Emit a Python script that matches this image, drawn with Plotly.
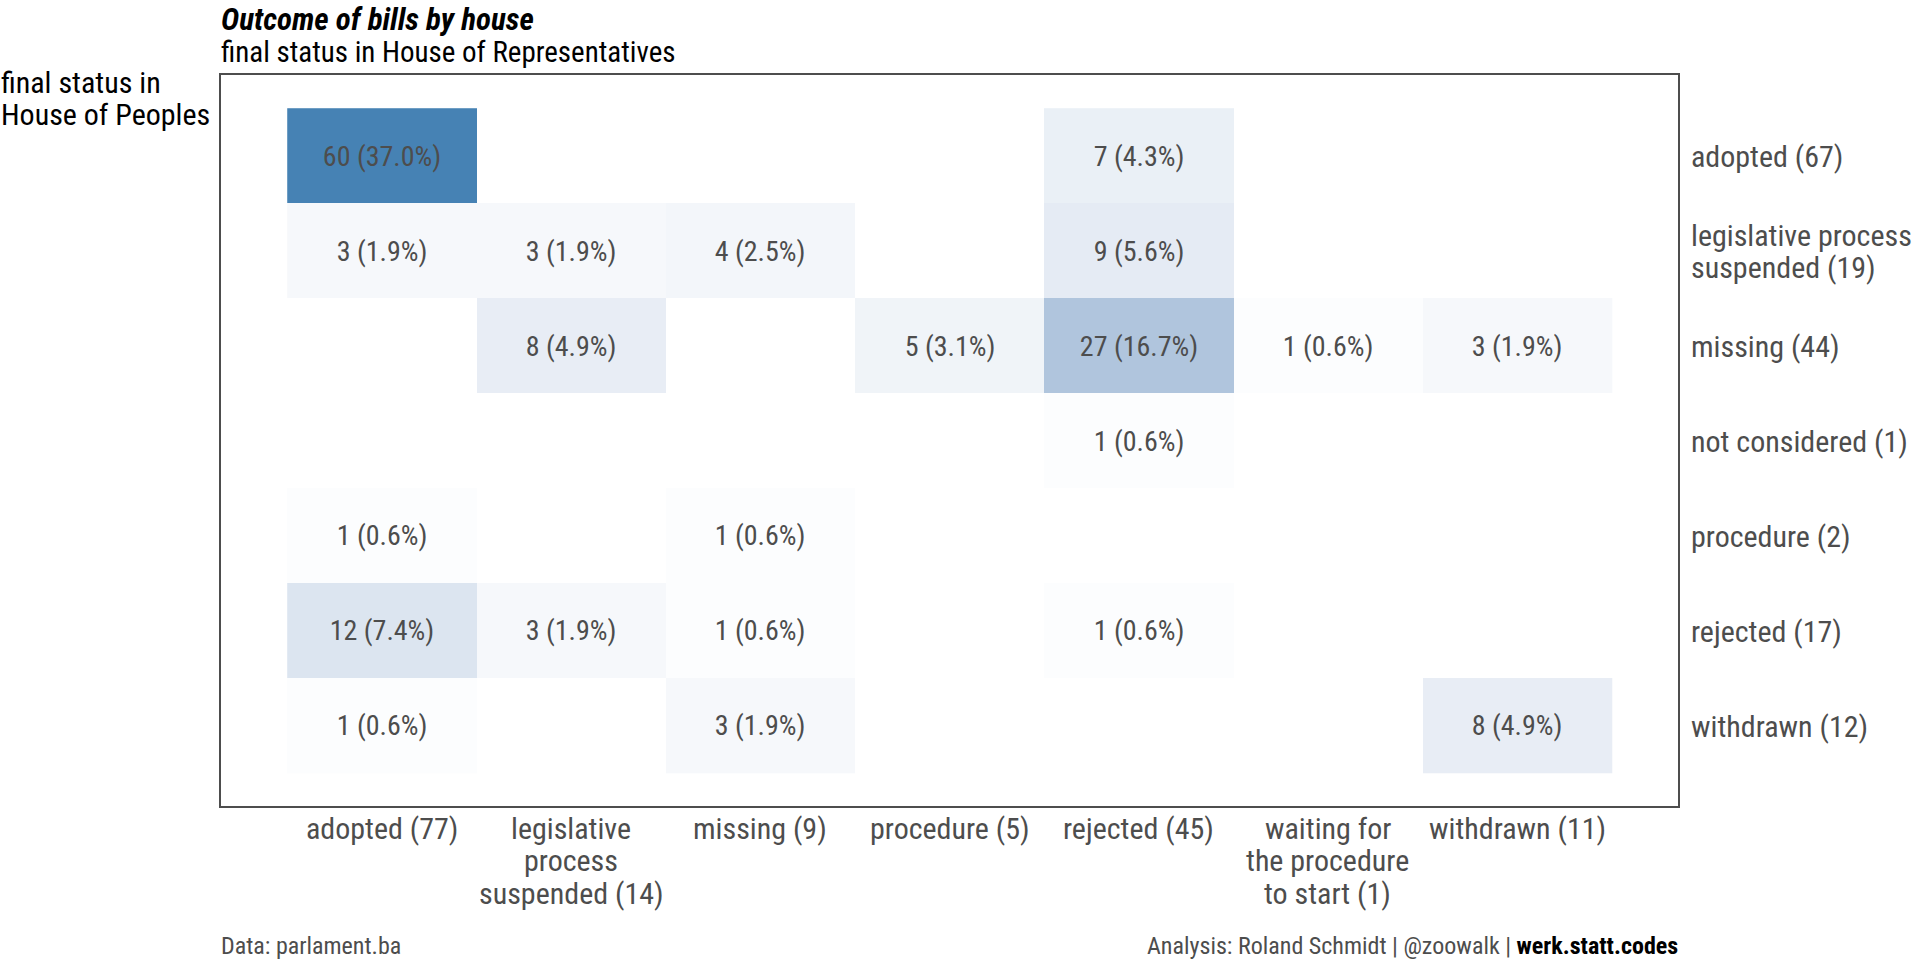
import plotly.graph_objects as go

# ---------------- data ----------------
col_labels = [["adopted (77)"],
              ["legislative", "process", "suspended (14)"],
              ["missing (9)"],
              ["procedure (5)"],
              ["rejected (45)"],
              ["waiting for", "the procedure", "to start (1)"],
              ["withdrawn (11)"]]
row_labels = [["adopted (67)"],
              ["legislative process", "suspended (19)"],
              ["missing (44)"],
              ["not considered (1)"],
              ["procedure (2)"],
              ["rejected (17)"],
              ["withdrawn (12)"]]

row_adopted      = [60, None, None, None, 7, None, None]
row_leg_susp     = [3, 3, 4, None, 9, None, None]
row_missing      = [None, 8, None, 5, 27, 1, 3]
row_not_consid   = [None, None, None, None, 1, None, None]
row_procedure    = [1, None, 1, None, None, None, None]
row_rejected     = [12, 3, 1, None, 1, None, None]
row_withdrawn    = [1, None, 3, None, None, None, 8]

z = [row_adopted, row_leg_susp, row_missing, row_not_consid,
     row_procedure, row_rejected, row_withdrawn]

total = sum(v for r in z for v in r if v is not None)
text = [["" if v is None else f"{v} ({100*v/total:.1f}%)" for v in r] for r in z]

# ------------- colour scale (Lab interpolation white -> steelblue) -------------
def _lin(c):
    c = c / 255
    return c / 12.92 if c <= 0.04045 else ((c + 0.055) / 1.055) ** 2.4

def _unlin(c):
    c = 12.92 * c if c <= 0.0031308 else 1.055 * c ** (1 / 2.4) - 0.055
    return max(0, min(255, round(c * 255)))

def rgb2lab(rgb):
    r, g, b = [_lin(v) for v in rgb]
    X = (0.4124 * r + 0.3576 * g + 0.1805 * b) / 0.95047
    Y = (0.2126 * r + 0.7152 * g + 0.0722 * b)
    Z = (0.0193 * r + 0.1192 * g + 0.9505 * b) / 1.08883
    f = lambda t: t ** (1 / 3) if t > 0.008856 else 7.787 * t + 16 / 116
    fx, fy, fz = f(X), f(Y), f(Z)
    return (116 * fy - 16, 500 * (fx - fy), 200 * (fy - fz))

def lab2rgb(lab):
    L, a, bb = lab
    fy = (L + 16) / 116
    fx = fy + a / 500
    fz = fy - bb / 200
    finv = lambda t: t ** 3 if t ** 3 > 0.008856 else (t - 16 / 116) / 7.787
    X, Y, Z = finv(fx) * 0.95047, finv(fy), finv(fz) * 1.08883
    r = 3.2406 * X - 1.5372 * Y - 0.4986 * Z
    g = -0.9689 * X + 1.8758 * Y + 0.0415 * Z
    b = 0.0557 * X - 0.2040 * Y + 1.0570 * Z
    return tuple(_unlin(max(0, v)) for v in (r, g, b))

lo, hi = rgb2lab((255, 255, 255)), rgb2lab((70, 130, 180))
colorscale = []
for i in range(21):
    t = i / 20
    lab = tuple(lo[k] + (hi[k] - lo[k]) * t for k in range(3))
    colorscale.append([t, "rgb(%d,%d,%d)" % lab2rgb(lab)])

FONT = "Roboto Condensed, Roboto, sans-serif"
GREY = "#4D4D4D"

# layout geometry (pixels)
W, H = 1920, 960
ML, MR, MT, MB = 220.5, 242.4, 74.5, 153.5
PH = H - MT - MB

def py(px):  # pixel row -> paper y
    return (H - MB - px) / PH

fig = go.Figure(go.Heatmap(
    z=z, x=list(range(len(col_labels))), y=list(range(len(row_labels))),
    text=text, texttemplate="%{text}",
    textfont=dict(family=FONT, size=28, color=GREY),
    colorscale=colorscale, zmin=0, zmax=60, showscale=False,
    xgap=0, ygap=0, hoverinfo="skip",
))

fig.update_xaxes(range=[-0.85, 6.85], tickvals=list(range(7)), showticklabels=False,
                 showgrid=False, zeroline=False, showline=True, mirror=True,
                 linecolor=GREY, linewidth=1.5, ticks="")
fig.update_yaxes(range=[6.85, -0.85], tickvals=list(range(7)), showticklabels=False,
                 side="right", showgrid=False, zeroline=False, showline=True, mirror=True,
                 linecolor=GREY, linewidth=1.5, ticks="")

annotations = []
LS = 32.5
# x-axis category labels (one annotation per line, centred under each column)
for i, lines in enumerate(col_labels):
    for k, ln in enumerate(lines):
        annotations.append(dict(text=ln, xref="x", x=i, yref="paper", y=py(829 + LS * k),
                                xanchor="center", yanchor="middle",
                                font=dict(family=FONT, size=30, color=GREY)))
# y-axis category labels (right side)
for j, lines in enumerate(row_labels):
    n = len(lines)
    for k, ln in enumerate(lines):
        annotations.append(dict(text=ln, xref="paper", x=1, xshift=13, yref="y", y=j,
                                yshift=-(k - (n - 1) / 2) * 32 - 1,
                                xanchor="left", yanchor="middle",
                                font=dict(family=FONT, size=30, color=GREY)))

annotations += [
    dict(text="<b><i>Outcome of bills by house</i></b>", xref="paper", x=0, yref="paper",
         y=py(0), xanchor="left", yanchor="top", font=dict(family=FONT, size=31, color="#000")),
    dict(text="final status in House of Representatives", xref="paper", x=0, yref="paper",
         y=py(51), xanchor="left", yanchor="middle", font=dict(family=FONT, size=29, color="#000")),
    dict(text="final status in", xref="paper", x=-ML / (W - ML - MR), yref="paper", y=py(82),
         xanchor="left", yanchor="middle", font=dict(family=FONT, size=30, color="#000")),
    dict(text="House of Peoples", xref="paper", x=-ML / (W - ML - MR), yref="paper", y=py(114),
         xanchor="left", yanchor="middle", font=dict(family=FONT, size=30, color="#000")),
    dict(text="Data: parlament.ba", xref="paper", x=0, yref="paper", y=py(946.5),
         xanchor="left", yanchor="middle", font=dict(family=FONT, size=24, color=GREY)),
    dict(text="Analysis: Roland Schmidt | @zoowalk | <b><span style='color:#000'>werk.statt.codes</span></b>",
         xref="paper", x=1, yref="paper", y=py(946.5), xanchor="right", yanchor="middle",
         font=dict(family=FONT, size=24, color=GREY)),
]
for a in annotations:
    a.update(showarrow=False, borderpad=0, borderwidth=0)

fig.update_layout(
    width=W, height=H, autosize=False,
    margin=dict(l=ML, r=MR, t=MT, b=MB, pad=0),
    paper_bgcolor="white", plot_bgcolor="white",
    annotations=annotations, showlegend=False,
    font=dict(family=FONT, color=GREY),
)

fig.write_html("out.html")
